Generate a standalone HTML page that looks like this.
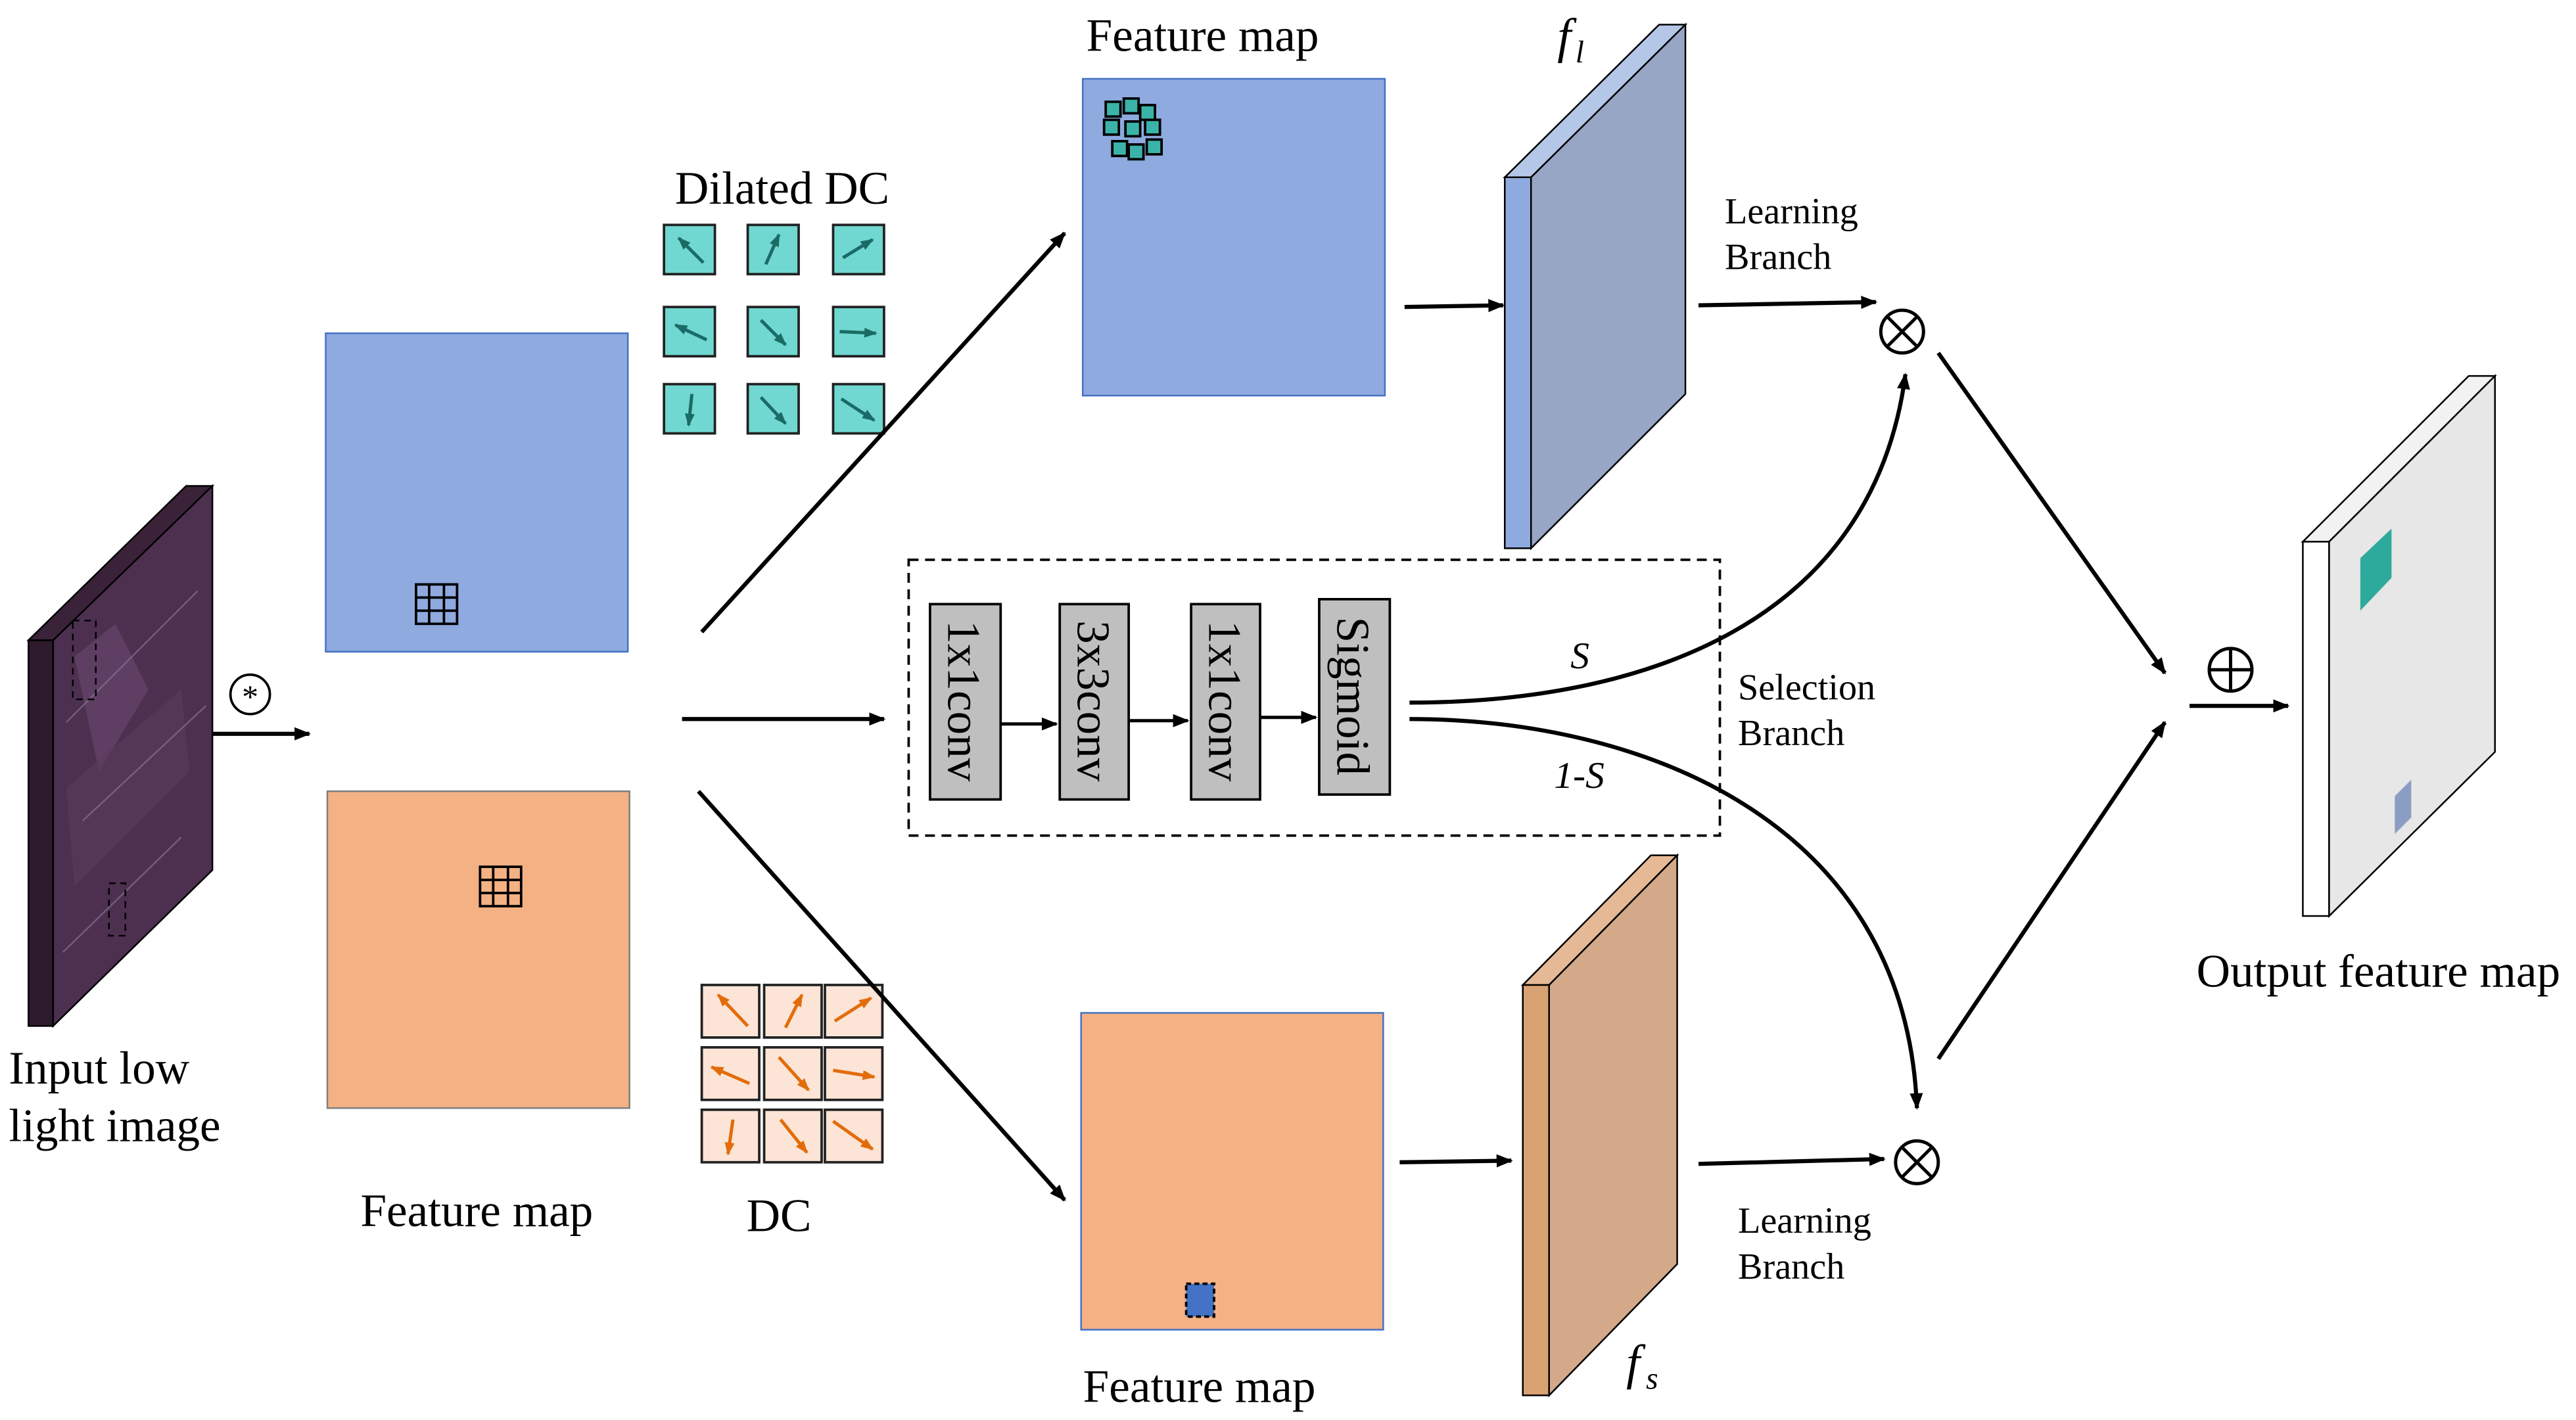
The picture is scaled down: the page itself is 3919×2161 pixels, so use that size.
<!DOCTYPE html>
<html><head><meta charset="utf-8"><style>
html,body{margin:0;padding:0;background:#fff;}
svg{display:block;}
text{font-family:"Liberation Serif","Times New Roman",serif;fill:#000;}
</style></head><body>
<svg width="3919" height="2161" viewBox="0 0 1568 865" xmlns="http://www.w3.org/2000/svg">
<defs>
<marker id="ah" markerWidth="10" markerHeight="8" refX="9" refY="4" orient="auto" markerUnits="userSpaceOnUse">
<path d="M0,0 L10,4 L0,8 Z" fill="#000"/></marker>
<marker id="sa" markerWidth="8" markerHeight="6" refX="7" refY="3" orient="auto" markerUnits="userSpaceOnUse">
<path d="M0,0 L8,3 L0,6 Z" fill="#1a6b66"/></marker>
<marker id="oa" markerWidth="8" markerHeight="6" refX="7" refY="3" orient="auto" markerUnits="userSpaceOnUse">
<path d="M0,0 L8,3 L0,6 Z" fill="#e36c0a"/></marker>
</defs>
<rect width="1568" height="865" fill="#fff"/>

<!-- input image slab -->
<polygon points="17,390 113,296 129,296 32,390" fill="#3a2238" stroke="#000" stroke-width="1"/>
<polygon points="17,390 32,390 32,625 17,625" fill="#2d1a2c" stroke="#000" stroke-width="1"/>
<polygon points="32,390 129,296 129,530 32,625" fill="#4d3050" stroke="#000" stroke-width="1"/>
<polygon points="45,400 70,380 90,420 60,470" fill="#6a4a70" opacity="0.6"/>
<polygon points="40,480 110,420 115,470 45,540" fill="#5a3a5a" opacity="0.6"/>
<g stroke="#8a7a9a" stroke-width="1" opacity="0.6">
<line x1="40" y1="440" x2="120" y2="360"/><line x1="50" y1="500" x2="125" y2="430"/><line x1="38" y1="580" x2="110" y2="510"/>
</g>
<rect x="44" y="378" width="14" height="48" fill="none" stroke="#000" stroke-dasharray="4,3"/>
<rect x="66" y="538" width="10" height="32" fill="none" stroke="#000" stroke-dasharray="4,3"/>
<circle cx="152" cy="423" r="12" fill="#fff" stroke="#000" stroke-width="1.5"/>
<text x="152" y="431" font-size="20" text-anchor="middle">*</text>
<line x1="129" y1="447" x2="188" y2="447" stroke="#000" stroke-width="2.5" marker-end="url(#ah)"/>
<text x="5" y="660" font-size="28.5">Input low</text>
<text x="5" y="695" font-size="28.5">light image</text>

<!-- feature maps left -->
<rect x="198" y="203" width="184" height="194" fill="#8eaadf" stroke="#4472c4"/>
<g stroke="#000" stroke-width="1.5" fill="none">
<rect x="253" y="356" width="25" height="24"/><line x1="261" y1="356" x2="261" y2="380"/><line x1="270" y1="356" x2="270" y2="380"/><line x1="253" y1="364" x2="278" y2="364"/><line x1="253" y1="372" x2="278" y2="372"/>
</g>
<rect x="199" y="482" width="184" height="193" fill="#f4b183" stroke="#7f7f7f"/>
<g stroke="#000" stroke-width="1.5" fill="none">
<rect x="292" y="528" width="25" height="24"/><line x1="300" y1="528" x2="300" y2="552"/><line x1="309" y1="528" x2="309" y2="552"/><line x1="292" y1="536" x2="317" y2="536"/><line x1="292" y1="544" x2="317" y2="544"/>
</g>
<text x="290" y="747" font-size="28.5" text-anchor="middle">Feature map</text>

<!-- Dilated DC -->
<text x="476" y="124" font-size="28.5" text-anchor="middle">Dilated DC</text>
<g fill="#70d8d0" stroke="#222" stroke-width="1.5">
<rect x="404" y="137" width="31" height="30"/><rect x="455" y="137" width="31" height="30"/><rect x="507" y="137" width="31" height="30"/>
<rect x="404" y="187" width="31" height="30"/><rect x="455" y="187" width="31" height="30"/><rect x="507" y="187" width="31" height="30"/>
<rect x="404" y="234" width="31" height="30"/><rect x="455" y="234" width="31" height="30"/><rect x="507" y="234" width="31" height="30"/>
</g>
<g stroke="#1a6b66" stroke-width="2" marker-end="url(#sa)">
<line x1="428" y1="160" x2="413" y2="145"/><line x1="466" y1="161" x2="474" y2="143"/><line x1="513" y1="157" x2="531" y2="146"/>
<line x1="430" y1="207" x2="411" y2="198"/><line x1="463" y1="195" x2="478" y2="210"/><line x1="511" y1="202" x2="533" y2="203"/>
<line x1="421" y1="240" x2="419" y2="259"/><line x1="463" y1="242" x2="478" y2="258"/><line x1="512" y1="243" x2="532" y2="256"/>
</g>

<!-- DC -->
<g fill="#fce4d6" stroke="#222" stroke-width="1.5">
<rect x="427" y="600" width="35" height="32"/><rect x="465" y="600" width="35" height="32"/><rect x="502" y="600" width="35" height="32"/>
<rect x="427" y="638" width="35" height="32"/><rect x="465" y="638" width="35" height="32"/><rect x="502" y="638" width="35" height="32"/>
<rect x="427" y="676" width="35" height="32"/><rect x="465" y="676" width="35" height="32"/><rect x="502" y="676" width="35" height="32"/>
</g>
<g stroke="#e36c0a" stroke-width="2" marker-end="url(#oa)">
<line x1="455" y1="625" x2="437" y2="606"/><line x1="478" y1="626" x2="488" y2="606"/><line x1="508" y1="622" x2="530" y2="608"/>
<line x1="456" y1="660" x2="433" y2="650"/><line x1="474" y1="644" x2="492" y2="664"/><line x1="507" y1="652" x2="532" y2="656"/>
<line x1="446" y1="682" x2="443" y2="703"/><line x1="475" y1="682" x2="491" y2="702"/><line x1="507" y1="683" x2="531" y2="700"/>
</g>
<text x="474" y="750" font-size="28.5" text-anchor="middle">DC</text>

<!-- arrows to branches -->
<line x1="427" y1="385" x2="648" y2="142" stroke="#000" stroke-width="2.5" marker-end="url(#ah)"/>
<line x1="415" y1="438" x2="538" y2="438" stroke="#000" stroke-width="2.5" marker-end="url(#ah)"/>
<line x1="425" y1="482" x2="648" y2="731" stroke="#000" stroke-width="2.5" marker-end="url(#ah)"/>

<!-- top feature map -->
<text x="732" y="31" font-size="28.5" text-anchor="middle">Feature map</text>
<rect x="659" y="48" width="184" height="193" fill="#8eaadf" stroke="#4472c4"/>
<g fill="#3bb3a8" stroke="#000" stroke-width="1.5">
<rect x="673" y="62" width="9" height="9"/><rect x="684" y="60" width="9" height="9"/><rect x="694" y="64" width="9" height="9"/>
<rect x="672" y="73" width="9" height="9"/><rect x="685" y="74" width="9" height="9"/><rect x="697" y="73" width="9" height="9"/>
<rect x="677" y="86" width="9" height="9"/><rect x="687" y="88" width="9" height="9"/><rect x="698" y="85" width="9" height="9"/>
</g>
<line x1="855" y1="187" x2="915" y2="186" stroke="#000" stroke-width="2.5" marker-end="url(#ah)"/>

<!-- f_l slab -->
<polygon points="916,108 1010,15 1026,15 932,108" fill="#b4c7e7" stroke="#000"/>
<polygon points="916,108 932,108 932,334 916,334" fill="#8eaadf" stroke="#000"/>
<polygon points="932,108 1026,15 1026,240 932,334" fill="#97a6c4" stroke="#000"/>
<text x="948" y="32" font-size="30" font-style="italic">f</text><text x="959" y="38" font-size="19" font-style="italic">l</text>

<line x1="1034" y1="186" x2="1142" y2="184" stroke="#000" stroke-width="2.5" marker-end="url(#ah)"/>
<text x="1050" y="136" font-size="22.5">Learning</text>
<text x="1050" y="164" font-size="22.5">Branch</text>
<circle cx="1158" cy="202" r="13" fill="#fff" stroke="#000" stroke-width="2"/>
<line x1="1149" y1="193" x2="1167" y2="211" stroke="#000" stroke-width="2"/><line x1="1167" y1="193" x2="1149" y2="211" stroke="#000" stroke-width="2"/>

<!-- selection branch -->
<rect x="553" y="341" width="494" height="168" fill="none" stroke="#000" stroke-width="1.5" stroke-dasharray="6,4"/>
<g fill="#bfbfbf" stroke="#000" stroke-width="1.5">
<rect x="566" y="368" width="43" height="119"/><rect x="645" y="368" width="42" height="119"/><rect x="725" y="368" width="42" height="119"/><rect x="803" y="365" width="43" height="119"/>
</g>
<g font-size="28.5">
<text transform="translate(577,427) rotate(90)" text-anchor="middle">1x1conv</text>
<text transform="translate(656,427) rotate(90)" text-anchor="middle">3x3conv</text>
<text transform="translate(736,427) rotate(90)" text-anchor="middle">1x1conv</text>
<text transform="translate(814,424) rotate(90)" text-anchor="middle">Sigmoid</text>
</g>
<line x1="609" y1="441" x2="643" y2="441" stroke="#000" stroke-width="2" marker-end="url(#ah)"/>
<line x1="687" y1="439" x2="723" y2="439" stroke="#000" stroke-width="2" marker-end="url(#ah)"/>
<line x1="767" y1="437" x2="801" y2="437" stroke="#000" stroke-width="2" marker-end="url(#ah)"/>
<path d="M858,428 C1000,428 1140,380 1160,228" fill="none" stroke="#000" stroke-width="2.5" marker-end="url(#ah)"/>
<path d="M858,438 C1000,438 1160,500 1167,675" fill="none" stroke="#000" stroke-width="2.5" marker-end="url(#ah)"/>
<text x="956" y="407" font-size="23" font-style="italic">S</text>
<text x="946" y="480" font-size="23" font-style="italic">1-S</text>
<text x="1058" y="426" font-size="22.5">Selection</text>
<text x="1058" y="454" font-size="22.5">Branch</text>

<!-- bottom feature map -->
<rect x="658" y="617" width="184" height="193" fill="#f4b183" stroke="#4472c4"/>
<rect x="722" y="782" width="17" height="20" fill="#4472c4" stroke="#000" stroke-width="1.5" stroke-dasharray="3,2"/>
<text x="730" y="854" font-size="28.5" text-anchor="middle">Feature map</text>
<line x1="852" y1="708" x2="920" y2="707" stroke="#000" stroke-width="2.5" marker-end="url(#ah)"/>

<!-- f_s slab -->
<polygon points="927,600 1005,521 1021,521 943,600" fill="#e6b996" stroke="#000"/>
<polygon points="927,600 943,600 943,850 927,850" fill="#d9a273" stroke="#000"/>
<polygon points="943,600 1021,521 1021,770 943,850" fill="#d3a98a" stroke="#000"/>
<text x="990" y="840" font-size="30" font-style="italic">f</text><text x="1002" y="846" font-size="19" font-style="italic">s</text>

<line x1="1034" y1="709" x2="1147" y2="706" stroke="#000" stroke-width="2.5" marker-end="url(#ah)"/>
<text x="1058" y="751" font-size="22.5">Learning</text>
<text x="1058" y="779" font-size="22.5">Branch</text>
<circle cx="1167" cy="708" r="13" fill="#fff" stroke="#000" stroke-width="2"/>
<line x1="1158" y1="699" x2="1176" y2="717" stroke="#000" stroke-width="2"/><line x1="1176" y1="699" x2="1158" y2="717" stroke="#000" stroke-width="2"/>

<!-- fusion -->
<line x1="1180" y1="215" x2="1318" y2="410" stroke="#000" stroke-width="2.5" marker-end="url(#ah)"/>
<line x1="1180" y1="645" x2="1318" y2="440" stroke="#000" stroke-width="2.5" marker-end="url(#ah)"/>
<circle cx="1358" cy="408" r="13" fill="#fff" stroke="#000" stroke-width="2"/>
<line x1="1345" y1="408" x2="1371" y2="408" stroke="#000" stroke-width="2"/><line x1="1358" y1="395" x2="1358" y2="421" stroke="#000" stroke-width="2"/>
<line x1="1333" y1="430" x2="1393" y2="430" stroke="#000" stroke-width="2.5" marker-end="url(#ah)"/>

<!-- output slab -->
<polygon points="1402,330 1503,229 1519,229 1418,330" fill="#f2f2f2" stroke="#000"/>
<polygon points="1402,330 1418,330 1418,558 1402,558" fill="#ffffff" stroke="#000"/>
<polygon points="1418,330 1519,229 1519,458 1418,558" fill="#e7e7e7" stroke="#000"/>
<polygon points="1437,340 1456,322 1456,352 1437,372" fill="#2eaa9c"/>
<polygon points="1458,485 1468,475 1468,498 1458,508" fill="#8b9dc3"/>
<text x="1448" y="601" font-size="28.5" text-anchor="middle">Output feature map</text>
</svg>
</body></html>
